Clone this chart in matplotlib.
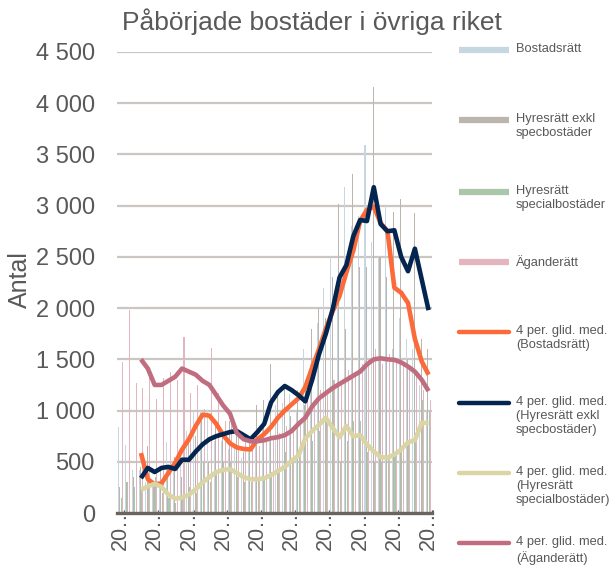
import matplotlib
matplotlib.use("Agg")
import matplotlib.pyplot as plt
from matplotlib.lines import Line2D
import numpy as np

plt.rcParams["font.family"] = ["Liberation Sans", "DejaVu Sans"]

# quarters 2008K1 .. 2019K2, labels cut short like in the original
quarters = [f"{y}K{k}" for y in range(2008, 2020) for k in range(1, 5)][:46]

bostadsratt = [840, 660, 420, 420, 300, 250, 280, 690, 420, 560, 800, 1000, 1000, 1010, 700, 700,
               620, 650, 540, 600, 690, 870, 720, 1050, 1070, 1160, 1000, 1600, 1450, 1850, 2200, 2500,
               2000, 3180, 2800, 2900, 3590, 2650, 2500, 3000, 1600, 1900, 1700, 1600, 1250, 1000]
hyres_exkl = [250, 300, 350, 450, 650, 250, 450, 450, 550, 350, 750, 750, 900, 500, 850, 800,
              900, 800, 600, 700, 1050, 1100, 1450, 1150, 1250, 950, 1200, 1050, 1800, 2000, 1900, 2300,
              3020, 1800, 3310, 2400, 2400, 4160, 2500, 2300, 2940, 3065, 1500, 2930, 1700, 1600]
hyres_special = [150, 300, 250, 220, 300, 350, 200, 150, 100, 150, 250, 200, 500, 300, 400, 500,
                 500, 350, 300, 300, 350, 350, 400, 400, 600, 500, 600, 1300, 700, 800, 900, 1300,
                 500, 700, 900, 900, 600, 500, 500, 550, 600, 650, 700, 700, 1100, 1000]
aganderatt = [1470, 1980, 1270, 1220, 1400, 1110, 1320, 1380, 1300, 1720, 1170, 1250, 1020, 1610, 1170, 900,
              950, 800, 700, 750, 650, 700, 740, 780, 850, 820, 900, 1100, 1050, 1200, 1150, 1300,
              1250, 1400, 1350, 1450, 1500, 1600, 1450, 1550, 1500, 1450, 1400, 1350, 1200, 1100]

# 4 per. glid. med., starting at the 4th quarter
ma_bostadsratt = [585, 330, 280, 290, 390, 490, 620, 720, 850, 960, 950, 870, 760, 680, 640, 625,
                  620, 720, 770, 840, 930, 1000, 1060, 1120, 1230, 1420, 1600, 1800, 1970, 2120, 2350, 2560,
                  2850, 2960, 2990, 2830, 2750, 2200, 2150, 2050, 1700, 1480, 1350]
ma_hyres_exkl = [340, 440, 400, 440, 450, 430, 520, 520, 600, 670, 720, 750, 770, 790, 800, 760,
                 720, 790, 870, 1080, 1180, 1240, 1200, 1150, 1090, 1300, 1550, 1750, 1990, 2300, 2420, 2700,
                 2860, 2850, 3180, 2820, 2750, 2760, 2500, 2360, 2580, 2280, 1980]
ma_hyres_special = [225, 260, 285, 255, 180, 140, 150, 180, 230, 300, 350, 400, 420, 430, 390, 350,
                    330, 330, 340, 370, 410, 450, 510, 560, 730, 800, 860, 930, 830, 740, 850, 750,
                    760, 670, 600, 545, 540, 570, 620, 690, 710, 880, 880]
ma_aganderatt = [1500, 1410, 1250, 1250, 1290, 1330, 1410, 1380, 1350, 1290, 1250, 1150, 1050, 970, 780, 720,
                 700, 700, 710, 730, 740, 760, 800, 870, 930, 1040, 1120, 1170, 1220, 1260, 1300, 1340,
                 1380, 1450, 1500, 1510, 1500, 1495, 1470, 1430, 1380, 1300, 1190]

bar_names = ["Bostadsrätt", "Hyresrätt exkl\nspecbostäder", "Hyresrätt\nspecialbostäder", "Äganderätt"]
bar_colors = ["#c6d7e1", "#bcb5ae", "#abc7aa", "#e2b5bf"]
line_names = ["4 per. glid. med.\n(Bostadsrätt)", "4 per. glid. med.\n(Hyresrätt exkl\nspecbostäder)",
              "4 per. glid. med.\n(Hyresrätt\nspecialbostäder)", "4 per. glid. med.\n(Äganderätt)"]
line_colors = ["#fb6a38", "#04254f", "#dbd4a4", "#c16d80"]

grey = "#595959"
fig = plt.figure(figsize=(6.12, 5.66), dpi=100)
ax = fig.add_axes([117 / 612, 1 - 513 / 566, 315 / 612, 461 / 566])

x = np.arange(len(quarters))
series = [bostadsratt, hyres_exkl, hyres_special, aganderatt]
w = 0.15
for k, (vals, c) in enumerate(zip(series, bar_colors)):
    ax.bar(x + (k - 1.5) * 0.19, vals, width=w, color=c, linewidth=0, zorder=2)

mas = [ma_bostadsratt, ma_hyres_exkl, ma_hyres_special, ma_aganderatt]
draw_order = [3, 2, 0, 1]
for k in draw_order:
    ax.plot(x[3:], mas[k], color=line_colors[k], lw=3.3, zorder=4 + k,
            solid_joinstyle="round", solid_capstyle="butt")

ax.set_xlim(-0.5, len(quarters) - 0.5)
ax.set_ylim(0, 4500)
ax.set_yticks(np.arange(0, 4501, 500))
ax.set_yticklabels([f"{v:,}".replace(",", " ") for v in range(0, 4501, 500)])
ax.grid(axis="y", color="#cbc6c1", lw=1.6, zorder=0)
ax.set_axisbelow(True)
for s in ["top", "right", "left"]:
    ax.spines[s].set_visible(False)
ax.spines["bottom"].set_color("#6b645e")
ax.spines["bottom"].set_linewidth(2.4)
ax.spines["bottom"].set_zorder(10)

ticks = x[::5]
ax.set_xticks(ticks)
ax.set_xticklabels([quarters[i][:2] + "…" for i in ticks], rotation=90)
ax.tick_params(axis="x", length=0, pad=-6, labelsize=15.5, colors=grey)
ax.tick_params(axis="y", length=0, pad=16, labelsize=17, colors=grey)

fig.text(20 / 612, 1 - 280 / 566, "Antal", rotation=90, ha="center", va="center",
         fontsize=18, color=grey)
fig.text(312 / 612, 1 - 22 / 566, "Påbörjade bostäder i övriga riket", ha="center", va="center",
         fontsize=19, color=grey)

# legend, handle next to the first text line as in the original
leg_y = [50, 120, 192, 262, 332, 403, 473, 543]
names = bar_names + line_names
colors = bar_colors + line_colors
for i, (yy, nm, c) in enumerate(zip(leg_y, names, colors)):
    yf = 1 - yy / 566
    lw = 4.5 if i < 4 else 3.2
    cap = "butt" if i < 4 else "round"
    fig.add_artist(Line2D([459 / 612, 509 / 612], [yf, yf], color=c, lw=lw, solid_capstyle=cap))
    fig.text(516 / 612, 1 - (yy - 7) / 566, nm, ha="left", va="top", fontsize=9.3,
             color=grey, linespacing=1.25)

fig.savefig("out.png", dpi=100)
